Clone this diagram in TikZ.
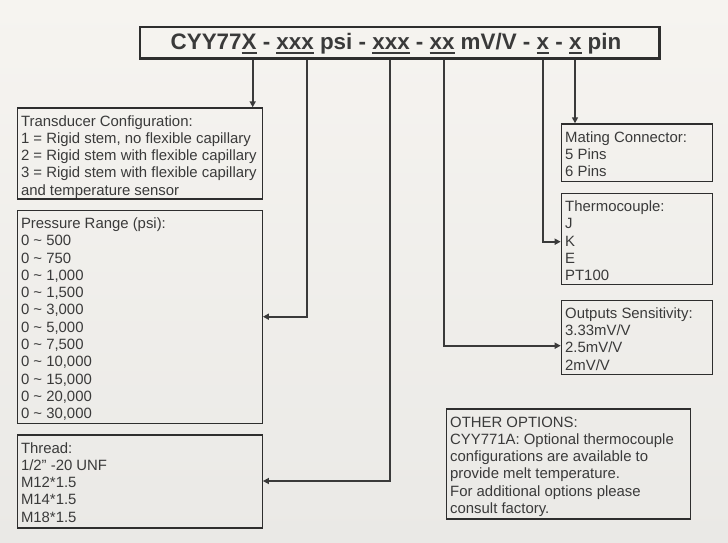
\documentclass[tikz,border=0pt]{standalone}
\usepackage{fontspec}
\setmainfont{Liberation Sans}
\usetikzlibrary{arrows.meta,calc}
\definecolor{bgtop}{HTML}{F6F4F0}
\definecolor{bgbot}{HTML}{EAE9E6}
\definecolor{ink}{HTML}{3A3A3A}
\definecolor{edge}{HTML}{2E2E2E}
\newcommand\ulx[1]{\setbox0\hbox{#1}\rlap{\rule[-4.6pt]{\wd0}{1.9pt}}\box0\relax}
\newcommand\fstrut{\rule{0pt}{13pt}}
\tikzset{
  panel/.style={draw=edge, line width=1.2pt, anchor=north west, inner sep=0pt},
  paneltext/.style={anchor=north west, inner sep=0pt, align=left, text=ink,
    font=\fontsize{14.9}{17.3}\selectfont},
  conn/.style={draw=ink, line width=2pt, -{Triangle[length=6pt,width=6pt]}},
  titlebox/.style={draw=edge, line width=2.5pt, anchor=north west, inner sep=0pt},
  titletext/.style={text=ink, anchor=base, inner sep=0pt,
    font=\fontsize{22.4}{24}\selectfont\bfseries},
}
\begin{document}
\begin{tikzpicture}[x=1pt,y=-1pt]
\shade[top color=bgtop,bottom color=bgbot] (0,0) rectangle (728,543);
\useasboundingbox (0,0) rectangle (728,543);

% title
\node[titlebox, minimum width=519.8pt, minimum height=31.5pt] (title) at (138.5,26) {};
\node[titletext] (titletxt) at (396,49.3)
  {CYY77\ulx{X} - \ulx{xxx} psi - \ulx{xxx} - \ulx{xx} mV/V - \ulx{x} - \ulx{x} pin};

% panels
\node[panel, minimum width=245.2pt, minimum height=91pt] (trans) at (16.5,107.3) {};
\node[paneltext] (transtxt) at ($(trans.north west)+(4.3,5.5)$)
  {\fstrut Transducer Configuration:\\
   1 = Rigid stem, no flexible capillary\\
   2 = Rigid stem with flexible capillary\\
   3 = Rigid stem with flexible capillary\\
   and temperature sensor};

\node[panel, minimum width=245.2pt, minimum height=213.3pt] (press) at (16.5,209.7) {};
\node[paneltext] (presstxt) at ($(press.north west)+(4.3,5.5)$)
  {\fstrut Pressure Range (psi):\\
   0 \textasciitilde{} 500\\
   0 \textasciitilde{} 750\\
   0 \textasciitilde{} 1,000\\
   0 \textasciitilde{} 1,500\\
   0 \textasciitilde{} 3,000\\
   0 \textasciitilde{} 5,000\\
   0 \textasciitilde{} 7,500\\
   0 \textasciitilde{} 10,000\\
   0 \textasciitilde{} 15,000\\
   0 \textasciitilde{} 20,000\\
   0 \textasciitilde{} 30,000};

\node[panel, minimum width=245.2pt, minimum height=93pt] (thread) at (16.5,434.3) {};
\node[paneltext] (threadtxt) at ($(thread.north west)+(4.3,5.5)$)
  {\fstrut Thread:\\
   1/2" -20 UNF\\
   M12*1.5\\
   M14*1.5\\
   M18*1.5};

\node[panel, minimum width=151pt, minimum height=57.7pt] (mating) at (560.7,123.3) {};
\node[paneltext] (matingtxt) at ($(mating.north west)+(4.3,5.5)$)
  {\fstrut Mating Connector:\\
   5 Pins\\
   6 Pins};

\node[panel, minimum width=151pt, minimum height=91.3pt] (thermo) at (560.7,192.7) {};
\node[paneltext] (thermotxt) at ($(thermo.north west)+(4.3,5.5)$)
  {\fstrut Thermocouple:\\
   J\\
   K\\
   E\\
   PT100};

\node[panel, minimum width=151pt, minimum height=74pt] (outputs) at (560.7,299.5) {};
\node[paneltext] (outputstxt) at ($(outputs.north west)+(4.3,5.5)$)
  {\fstrut Outputs Sensitivity:\\
   3.33mV/V\\
   2.5mV/V\\
   2mV/V};

\node[panel, minimum width=244.3pt, minimum height=110pt] (other) at (445.7,408.3) {};
\node[paneltext] (othertxt) at ($(other.north west)+(4.3,5.5)$)
  {\fstrut OTHER OPTIONS:\\
   CYY771A: Optional thermocouple\\
   configurations are available to\\
   provide melt temperature.\\
   For additional options please\\
   consult factory.};

% connector columns and rows
\coordinate (xa) at (252.7,0);
\coordinate (xb) at (307,0);
\coordinate (xc) at (390,0);
\coordinate (xd) at (444.3,0);
\coordinate (xe) at (542.7,0);
\coordinate (xf) at (575,0);
\coordinate (yb) at (0,316.7);
\coordinate (yc) at (0,481);
\coordinate (yd) at (0,345.7);
\coordinate (ye) at (0,241.7);

\draw[conn] (title.south -| xa) -- (trans.north -| xa);
\draw[conn] (title.south -| xb) |- (press.east |- yb);
\draw[conn] (title.south -| xc) |- (thread.east |- yc);
\draw[conn] (title.south -| xd) |- (outputs.west |- yd);
\draw[conn] (title.south -| xe) |- (thermo.west |- ye);
\draw[conn] (title.south -| xf) -- (mating.north -| xf);
\end{tikzpicture}
\end{document}
